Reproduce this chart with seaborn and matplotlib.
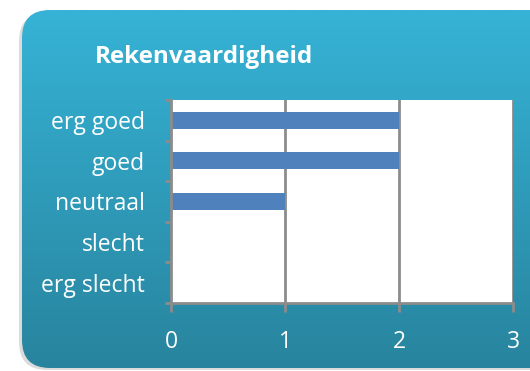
import numpy as np
import pandas as pd
import matplotlib
matplotlib.use("Agg")
import matplotlib.pyplot as plt
import seaborn as sns
from matplotlib.patches import FancyBboxPatch

# Survey answers for "Rekenvaardigheid"
categories = ["erg goed", "goed", "neutraal", "slecht", "erg slecht"]
counts = [2, 2, 1, 0, 0]
x_ticks = [0, 1, 2, 3]

df = pd.DataFrame({"antwoord": categories, "aantal": counts})

sns.set_theme(style="white")
plt.rcParams["font.family"] = ["Open Sans", "DejaVu Sans"]

W, H = 530, 371
fig = plt.figure(figsize=(W / 100, H / 100), dpi=100)
fig.patch.set_facecolor("white")

# Background panel with vertical gradient and rounded corners
bg = fig.add_axes([0, 0, 1, 1], zorder=0)
bg.set_xlim(0, W)
bg.set_ylim(H, 0)
bg.axis("off")

shadow = FancyBboxPatch((19, 13), 540, 357, boxstyle="round,pad=0,rounding_size=28",
                        facecolor="#c4c4c4", edgecolor="none", alpha=0.6, zorder=0)
bg.add_patch(shadow)
panel = FancyBboxPatch((22, 10), 540, 358, boxstyle="round,pad=0,rounding_size=28",
                       facecolor="none", edgecolor="none", zorder=0)
bg.add_patch(panel)
top = np.array([0x36, 0xB3, 0xD6]) / 255
bottom = np.array([0x28, 0x84, 0x9E]) / 255
t = np.linspace(0, 1, 256)[:, None]
grad = (top[None, :] * (1 - t) + bottom[None, :] * t)[:, None, :]
im = bg.imshow(grad, extent=[22, 562, 368, 10], aspect="auto",
               interpolation="bilinear", zorder=1)
im.set_clip_path(panel)

# Bar chart
ax = fig.add_axes([171 / W, 1 - 303 / H, (513 - 171) / W, (303 - 100) / H], zorder=1)
ax.set_facecolor("white")
sns.barplot(data=df, x="aantal", y="antwoord", order=categories, color="#4F81BD",
            width=0.42, saturation=1, linewidth=0, ax=ax, zorder=2)
ax.set_xlim(0, 3)
ax.set_ylim(len(categories) - 0.5, -0.5)
ax.set_xticks(x_ticks)
ax.set_xticklabels([str(v) for v in x_ticks])
ax.set_xlabel("")
ax.set_ylabel("")

grid_c = "#8c8c8c"
for v in x_ticks[1:]:
    ax.axvline(v, color=grid_c, lw=2, zorder=1)
for side in ["top", "right"]:
    ax.spines[side].set_visible(False)
for side in ["left", "bottom"]:
    ax.spines[side].set_color(grid_c)
    ax.spines[side].set_linewidth(2)

# Category ticks sit on the boundaries between bars
ax.set_yticks(np.arange(len(categories)))
ax.set_yticks(np.arange(len(categories) + 1) - 0.5, minor=True)
ax.tick_params(axis="y", which="major", length=0, pad=19, labelsize=16.5, labelcolor="white")
ax.tick_params(axis="y", which="minor", left=True, length=4, width=2, color=grid_c)
ax.tick_params(axis="x", which="major", bottom=True, length=6.5, width=2, color=grid_c,
               pad=13, labelsize=16.5, labelcolor="white")

fig.text(95 / W, 1 - 57 / H, "Rekenvaardigheid", color="white", fontsize=17.5,
         fontweight="bold", ha="left", va="center")

fig.savefig("out.png", dpi=100)
